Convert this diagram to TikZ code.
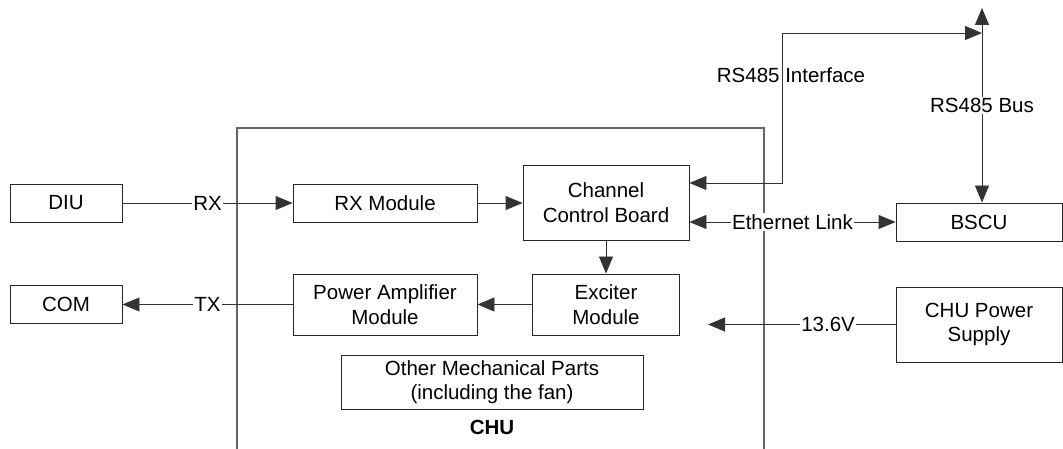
\documentclass[tikz,border=0pt]{standalone}
\usepackage{fontspec}
\setmainfont{Liberation Sans}
\usetikzlibrary{arrows.meta}
\begin{document}
\begin{tikzpicture}[x=1pt,y=-1pt,
  every node/.style={font=\fontsize{20.5}{24.5}\selectfont},
  box/.style={draw=black!85, line width=0.9pt, align=center, inner sep=0pt},
  conn/.style={draw=black!80, line width=0.9pt},
  arr/.style={conn, -{Triangle[length=17pt,width=14pt]}},
  barr/.style={conn, {Triangle[length=17pt,width=14pt]}-{Triangle[length=17pt,width=14pt]}},
  lbl/.style={fill=white, inner sep=1pt},
  frame/.style={draw=black!60, line width=1.1pt}]
\useasboundingbox (0,0) rectangle (1063,449);
% CHU frame
\draw[frame] (237,449) -- (237,128) -- (764,128) -- (764,449);
% boxes
\node[box, minimum width=112pt, minimum height=38pt] (DIU) at (66,203) {DIU};
\node[box, minimum width=112pt, minimum height=38pt] (COM) at (66,304.5) {COM};
\node[box, minimum width=184pt, minimum height=38pt] (RXM) at (385,203) {RX Module};
\node[box, minimum width=184pt, minimum height=61pt] (PA) at (385,304.5) {Power Amplifier\\Module};
\node[box, minimum width=166pt, minimum height=75pt] (CCB) at (606,202.5) {Channel\\Control Board};
\node[box, minimum width=147pt, minimum height=61pt] (EXC) at (606,304.5) {Exciter\\Module};
\node[box, minimum width=166pt, minimum height=38pt] (BSCU) at (979,222) {BSCU};
\node[box, minimum width=166pt, minimum height=75pt] (CPS) at (979,324.5) {CHU Power\\Supply};
\node[box, minimum width=302pt, minimum height=54pt] (OMP) at (492,382) {Other Mechanical Parts\\(including the fan)};
\node[font=\fontsize{20.5}{24.5}\selectfont\bfseries] (CHU) at (492,427) {CHU};
% coordinates
\coordinate (bustop) at (982,8);
\coordinate (bus) at (982,33);
\coordinate (pwr) at (708,324.5);
% connectors
\draw[arr] (DIU.east) -- node[lbl]{RX} (RXM.west);
\draw[arr] (PA.west) -- node[lbl]{TX} (COM.east);
\draw[arr] (RXM.east) -- (RXM.east -| CCB.west);
\draw[arr] (CCB.south) -- (EXC.north);
\draw[arr] (EXC.west) -- (EXC.west -| PA.east);
\draw[barr] (BSCU.west -| CCB.east) -- node[lbl]{Ethernet Link} (BSCU.west);
\draw[barr] ([yshift=19.5pt]CCB.east) -| (782,33) -- (bus);
\node (ri) at (791,75) {RS485 Interface};
\draw[barr] (bustop) -- node[lbl, pos=0.5]{RS485 Bus} (bustop |- BSCU.north);
\draw[arr] (CPS.west) -- node[lbl, pos=0.36]{13.6V} (pwr);
\end{tikzpicture}
\end{document}
